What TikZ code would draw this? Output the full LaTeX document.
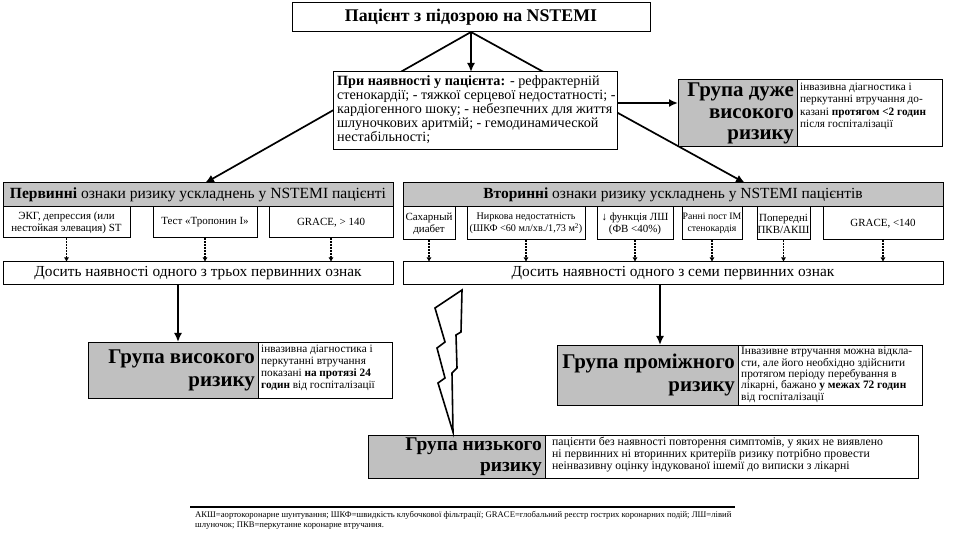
\documentclass[tikz,border=0pt]{standalone}
\usepackage{fontspec}
\setmainfont{Liberation Serif}
\usetikzlibrary{arrows.meta,calc}
\pgfdeclarelayer{bg}
\pgfsetlayers{bg,main}
\newcommand\fs[2]{\fontsize{#1}{#2}\selectfont}
\definecolor{grp}{RGB}{192,192,192}
\definecolor{hdr}{RGB}{196,196,196}
\tikzset{
  bx/.style={draw=black, line width=1bp, inner sep=0pt, outer sep=0pt},
  gbx/.style={bx, fill=grp},
  hbx/.style={bx, fill=hdr},
  wbx/.style={bx, fill=white},
  bigarr/.style={line width=1.7bp, -{Latex[length=9bp,width=8bp]}},
  dotarr/.style={line width=1.7bp, dash pattern=on 1.6bp off 1.4bp, -{Latex[length=4.5bp,width=5bp]}},
  grptxt/.style={inner sep=0pt, align=right, font=\bfseries\fs{21}{23}},
  smtxt/.style={inner sep=0pt, align=left, anchor=north west},
  cttxt/.style={inner sep=0pt, align=center},
}
% style, name, x1, y1, x2, y2
\newcommand\rbox[6]{%
  \node[#1, minimum width={(#5-#3)*1bp}, minimum height={(#6-#4)*1bp}] (#2) at ({(#3+#5)/2},{(#4+#6)/2}) {};}
\begin{document}
\begin{tikzpicture}[x=1bp,y=-1bp]
\begin{pgfonlayer}{bg}
\fill[white] (0,0) rectangle (960,540);
\end{pgfonlayer}
\useasboundingbox (0,0) rectangle (960,540);

% top box
\rbox{wbx}{top}{292}{3}{650}{32}
\node[cttxt, font=\bfseries\fs{17.9}{20}] (toptxt) at (top.center) {Пацієнт з підозрою на NSTEMI};

% middle box
\rbox{wbx}{mid}{333}{72}{617}{150}
\node[smtxt, font=\fs{14.2}{14.3}] (midtxt) at ([xshift=4bp,yshift=-3bp]mid.north west)
 {\textbf{При наявності у пацієнта:} - рефрактерній\\
 стенокардії; - тяжкої серцевої недостатності; -\\
 кардіогенного шоку; - небезпечних для життя\\
 шлуночкових аритмій; - гемодинамической\\
 нестабільності;};

% very high risk
\rbox{gbx}{vhg}{678}{80}{797}{147}
\rbox{wbx}{vhw}{797}{80}{942}{147}
\node[grptxt, anchor=east, font=\bfseries\fs{21}{21.5}] (vhgt) at ([xshift=-3bp]vhg.east) {Група дуже\\ високого\\ ризику};
\node[smtxt, font=\fs{11.3}{12.3}] (vhwt) at ([xshift=3bp,yshift=-3bp]vhw.north west)
 {інвазивна діагностика і\\ перкутанні втручання до-\\ казані \textbf{протягом <2 годин}\\ після госпіталізації};

% primary header and sub boxes
\rbox{hbx}{ph}{3}{183}{393}{207}
\node[cttxt, font=\fs{15.6}{17}] (pht) at (ph.center) {\textbf{Первинні} ознаки ризику ускладнень у NSTEMI пацієнті};
\rbox{wbx}{p1}{3}{207}{130}{238}
\rbox{wbx}{p2}{153}{207}{257}{238}
\rbox{wbx}{p3}{269}{207}{393}{238}
\node[cttxt, font=\fs{11}{12}] (p1t) at (p1.center) {ЭКГ, депрессия (или\\ нестойкая элевация) ST};
\node[cttxt, font=\fs{11}{12}] (p2t) at (p2.center) {Тест «Тропонин I»};
\node[cttxt, font=\fs{11}{12}] (p3t) at (p3.center) {GRACE, > 140};
\rbox{wbx}{psum}{3}{262}{393}{285}
\node[cttxt, font=\fs{15.4}{17}] (psumt) at (psum.center) {Досить наявності одного з трьох первинних ознак};

% secondary header and sub boxes
\rbox{hbx}{sh}{403}{183}{943}{207}
\node[cttxt, font=\fs{15.5}{17}] (sht) at (sh.center) {\textbf{Вторинні} ознаки ризику ускладнень у NSTEMI пацієнтів};
\rbox{wbx}{s1}{403}{207}{455}{240}
\rbox{wbx}{s2}{467}{207}{585}{240}
\rbox{wbx}{s3}{597}{207}{673}{240}
\rbox{wbx}{s4}{682}{207}{742}{240}
\rbox{wbx}{s5}{757}{207}{810}{240}
\rbox{wbx}{s6}{823}{207}{943}{240}
\node[cttxt, font=\fs{11}{12}] (s1t) at (s1.center) {Сахарный\\ диабет};
\node[cttxt, font=\fs{10.2}{12}] (s2t) at (s2.center) {Ниркова недостатність\\ (ШКФ <60 мл/хв./1,73 м\textsuperscript{2})};
\node[cttxt, font=\fs{11}{12}] (s3t) at (s3.center) {↓ функція ЛШ\\ (ФВ <40\%)};
\node[cttxt, font=\fs{9.8}{12}] (s4t) at (s4.center) {Ранні пост ІМ\\ стенокардія};
\node[cttxt, font=\fs{11}{12}] (s5t) at (s5.center) {Попередні\\ ПКВ/АКШ};
\node[cttxt, font=\fs{11}{12}] (s6t) at (s6.center) {GRACE, <140};
\rbox{wbx}{ssum}{403}{262}{943}{285}
\node[cttxt, font=\fs{15.4}{17}] (ssumt) at (ssum.center) {Досить наявності одного з семи первинних ознак};

% high risk
\rbox{gbx}{hg}{88}{342}{258}{398}
\rbox{wbx}{hw}{258}{342}{392}{398}
\node[grptxt, anchor=east] (hgt) at ([xshift=-3bp]hg.east) {Група високого\\ ризику};
\node[smtxt, font=\fs{11.3}{12}] (hwt) at ([xshift=3bp,yshift=-3bp]hw.north west)
 {інвазивна діагностика і\\ перкутанні втручання\\ показані \textbf{на протязі 24}\\ \textbf{годин} від госпіталізації};

% intermediate risk
\rbox{gbx}{ig}{557}{345}{738}{405}
\rbox{wbx}{iw}{738}{345}{922}{405}
\node[grptxt, anchor=east] (igt) at ([xshift=-3bp]ig.east) {Група проміжного\\ ризику};
\node[smtxt, font=\fs{11.4}{11.4}] (iwt) at ([xshift=3bp,yshift=-2bp]iw.north west)
 {Інвазивне втручання можна відкла-\\ сти, але його необхідно здійснити\\ протягом періоду перебування в\\ лікарні, бажано \textbf{у межах 72 годин}\\ від госпіталізації};

% low risk
\rbox{gbx}{lg}{368}{435}{545}{478}
\rbox{wbx}{lw}{545}{435}{918}{478}
\node[grptxt, anchor=east, font=\bfseries\fs{19.5}{21}] (lgt) at ([xshift=-3bp]lg.east) {Група низького\\ ризику};
\node[smtxt, font=\fs{11.8}{12}] (lwt) at ([xshift=7bp,yshift=-2bp]lw.north west)
 {пацієнти без наявності повторення симптомів, у яких не виявлено\\ ні первинних ні вторинних критеріїв ризику потрібно провести\\ неінвазивну оцінку індукованої ішемії до виписки з лікарні};

% connectors from top (behind the middle box)
\coordinate (phin) at (205,183);
\coordinate (shin) at (745,183);
\begin{pgfonlayer}{bg}
\draw[bigarr] (top.south) -- (phin);
\draw[bigarr] (top.south) -- (shin);
\end{pgfonlayer}
\draw[bigarr] (top.south) -- (mid.north -| top.south);
\coordinate (mre) at (617,103);
\draw[bigarr] (mre) -- (mre -| vhg.west);

% dotted arrows
\foreach \b in {p1,p2,p3} \draw[dotarr] (\b.south) -- (\b.south |- psum.north);
\foreach \b in {s1,s2,s3,s4,s5,s6} \draw[dotarr] (\b.south) -- (\b.south |- ssum.north);

% summaries to groups
\coordinate (pdown) at (178,285);
\coordinate (sdown) at (660,285);
\draw[bigarr] (pdown) -- (pdown |- hg.north);
\draw[bigarr] (sdown) -- (sdown |- ig.north);

% lightning bolt
\draw[line width=1.6bp, line join=miter] (462,290) -- (435,308) -- (445,342) -- (437,348) -- (445,378) -- (438,383) -- (453,432) -- (452,373) -- (457,368) -- (456,335) -- (461,332) -- cycle;

% footer
\draw[line width=2bp] (190,507) -- (735,507);
\node[smtxt, font=\fs{8.7}{10}] (foot) at (195,511)
 {АКШ=аортокоронарне шунтування; ШКФ=швидкість клубочкової фільтрації; GRACE=глобальний реєстр гострих коронарних подій; ЛШ=лівий\\
 шлуночок; ПКВ=перкутанне коронарне втручання.};
\end{tikzpicture}
\end{document}
